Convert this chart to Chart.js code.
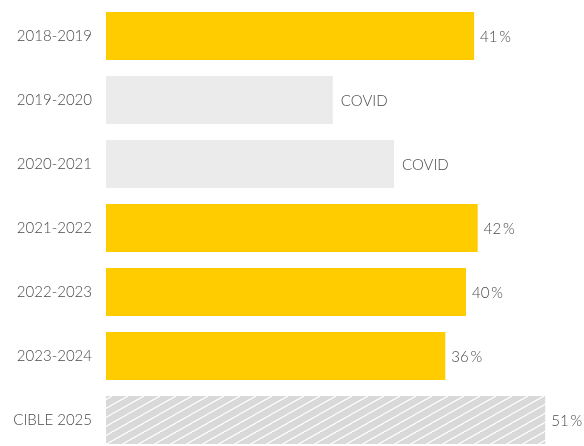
<!DOCTYPE html>
<html>
<head>
<meta charset="utf-8">
<script src="https://cdn.jsdelivr.net/npm/chart.js@4.4.1/dist/chart.umd.min.js"></script>
<style>
  html, body { margin: 0; padding: 0; background: #fff; overflow: hidden; }
  #wrap { position: relative; width: 584px; height: 452px; }
</style>
</head>
<body>
<div id="wrap"><canvas id="chart"></canvas></div>
<script>
const labels = ['2018-2019', '2019-2020', '2020-2021', '2021-2022', '2022-2023', '2023-2024', 'CIBLE 2025'];
// bar lengths
const values = [40.9, 25.2, 32, 41.3, 40, 37.7, 48.8];
const valueLabels = ['41\u2009%', 'COVID', 'COVID', '42\u2009%', '40\u2009%', '36\u2009%', '51\u2009%'];
const kinds = ['done', 'covid', 'covid', 'done', 'done', 'done', 'target'];

function hatch() {
  const c = document.createElement('canvas');
  c.width = 16;
  c.height = 9;
  const g = c.getContext('2d');
  g.fillStyle = '#d9d9d9';
  g.fillRect(0, 0, 16, 9);
  g.strokeStyle = '#ffffff';
  g.lineWidth = 1.1;
  g.beginPath();
  g.moveTo(-16, 18); g.lineTo(16, 0);
  g.moveTo(0, 18); g.lineTo(32, 0);
  g.moveTo(-32, 18); g.lineTo(0, 0);
  g.stroke();
  return g.createPattern(c, 'repeat');
}

const colors = kinds.map(k => k === 'done' ? '#ffcc00' : k === 'covid' ? '#ebebeb' : hatch());

const valueText = {
  id: 'valueText',
  afterDatasetsDraw(chart) {
    const ctx = chart.ctx;
    const meta = chart.getDatasetMeta(0);
    ctx.save();
    ctx.font = '300 15px Lato';
    ctx.fillStyle = '#4a4a4a';
    ctx.textBaseline = 'middle';
    ctx.textAlign = 'left';
    meta.data.forEach((bar, i) => {
      const gap = kinds[i] === 'covid' ? 8 : 6;
      ctx.fillText(valueLabels[i], bar.x + gap, bar.y + 1);
    });
    ctx.restore();
  }
};

new Chart(document.getElementById('chart'), {
  type: 'bar',
  data: {
    labels: labels,
    datasets: [{
      data: values,
      backgroundColor: colors,
      borderWidth: 0,
      categoryPercentage: 1,
      barPercentage: 0.75
    }]
  },
  options: {
    indexAxis: 'y',
    responsive: true,
    maintainAspectRatio: false,
    animation: false,
    layout: { padding: { top: 4, right: 1, left: 0, bottom: 0 } },
    plugins: {
      legend: { display: false },
      tooltip: { enabled: false }
    },
    scales: {
      x: { display: false, min: 0, max: 53 },
      y: {
        grid: { display: false, drawTicks: false },
        border: { display: false },
        ticks: { color: '#4a4a4a', font: { family: 'Lato', size: 15, weight: '300' }, padding: 14 },
        afterFit(scale) {
          scale.width = 106;
          scale.paddingTop = 0;
          scale.paddingBottom = 0;
        }
      }
    }
  },
  plugins: [valueText]
});
</script>
</body>
</html>
